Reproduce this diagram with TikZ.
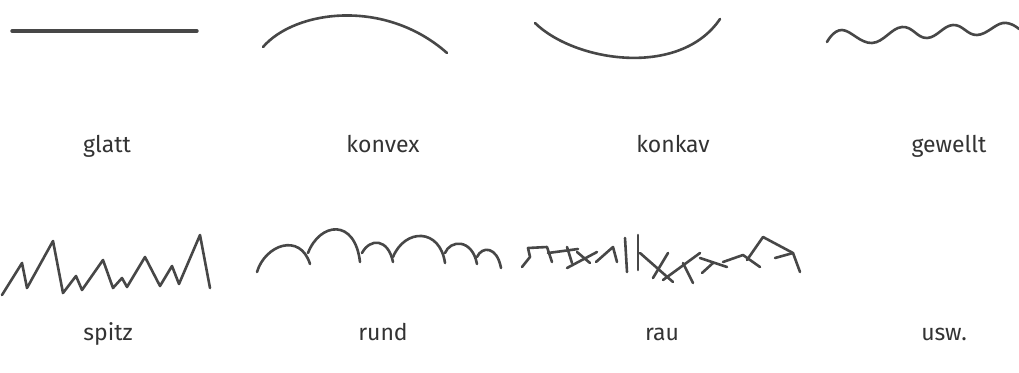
\documentclass[tikz,border=0pt]{standalone}
\usepackage{fontspec}
\setmainfont{Fira Sans}
\begin{document}
\begin{tikzpicture}[x=1pt,y=-1pt,every node/.style={font=\fontsize{23}{27}\selectfont,text=black!80,inner sep=0pt,anchor=base},sketch/.style={draw=black!72,line width=2.6pt,line cap=round,line join=round}]
            \useasboundingbox (0,0) rectangle (1019,372);
            % erste Reihe
            \draw[sketch,line width=3.4pt] (12,31) -- (197,31);
            \draw[sketch] (263,47) .. controls (295,10) and (385,-2) .. (447,53);
            \draw[sketch] (535,23) .. controls (575,62) and (680,78) .. (720,19);
            \draw[sketch] plot[smooth,tension=0.7] coordinates {(827,42) (842,30) (872,43) (902,27) (927,38) (953,25) (977,35) (1003,23) (1019,29)};
            \node (glatt) at (107,152) {glatt};
            \node (konvex) at (383,152) {konvex};
            \node (konkav) at (673,152) {konkav};
            \node (gewellt) at (949,152) {gewellt};
            % zweite Reihe
            \draw[sketch] (2,295) -- (22,263) -- (27,288) -- (53,241) -- (63,293) -- (76,276) -- (82,290) -- (103,260) -- (113,288) -- (122,278) -- (127,287) -- (145,257) -- (160,286) -- (172,266) -- (179,284) -- (200,235) -- (210,288);
            \draw[sketch] (257,272) .. controls (265,245) and (300,232) .. (310,264);
            \draw[sketch] (308,253) .. controls (320,222) and (355,218) .. (360,262);
            \draw[sketch] (362,253) .. controls (370,238) and (388,238) .. (393,262);
            \draw[sketch] (393,257) .. controls (405,228) and (440,228) .. (445,263);
            \draw[sketch] (445,253) .. controls (450,240) and (472,238) .. (477,264);
            \draw[sketch] (477,257) .. controls (482,246) and (497,246) .. (501,268);
            \draw[sketch] (522,267) -- (530,257) -- (528,248) -- (547,247) -- (552,262);
            \draw[sketch] (548,253) -- (578,249);
            \draw[sketch] (567,247) -- (572,263);
            \draw[sketch] (567,268) -- (597,252);
            \draw[sketch] (577,252) -- (590,263);
            \draw[sketch] (596,262) -- (613,247) -- (617,262);
            \draw[sketch] (625,238) -- (627,272);
            \draw[sketch] (638,235) -- (638,270);
            \draw[sketch] (640,253) -- (673,282);
            \draw[sketch] (653,278) -- (668,253);
            \draw[sketch] (663,280) -- (700,253);
            \draw[sketch] (683,263) -- (693,283);
            \draw[sketch] (702,273) -- (713,263);
            \draw[sketch] (700,258) -- (727,267);
            \draw[sketch] (723,262) -- (743,255) -- (760,267);
            \draw[sketch] (747,260) -- (763,237) -- (793,253) -- (800,272);
            \draw[sketch] (775,258) -- (793,253);
            \node (spitz) at (108,340) {spitz};
            \node (rund) at (383,340) {rund};
            \node (rau) at (662,340) {rau};
            \node (usw) at (944,340) {usw.};
\end{tikzpicture}
\end{document}
